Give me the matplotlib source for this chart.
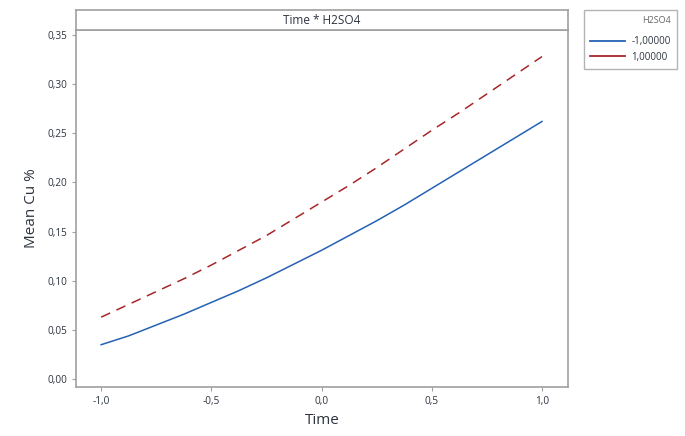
import numpy as np
import matplotlib.pyplot as plt
from matplotlib.lines import Line2D

# ── data ─────────────────────────────────────────────────────────────────────
time_x  = [-1.0, -0.875, -0.75, -0.625, -0.5, -0.375, -0.25, -0.125, 0.0,
           0.125, 0.25, 0.375, 0.5, 0.625, 0.75, 0.875, 1.0]
cu_low  = [0.035, 0.044, 0.055, 0.066, 0.078, 0.090, 0.103, 0.117, 0.131,
           0.146, 0.161, 0.177, 0.194, 0.211, 0.228, 0.245, 0.262]
cu_high = [0.063, 0.076, 0.089, 0.102, 0.116, 0.131, 0.146, 0.163, 0.180,
           0.197, 0.215, 0.234, 0.253, 0.271, 0.290, 0.309, 0.328]
x_ticks  = [-1.0, -0.5, 0.0, 0.5, 1.0]
x_labels = ["-1,0", "-0,5", "0,0", "0,5", "1,0"]
y_ticks  = [0.00, 0.05, 0.10, 0.15, 0.20, 0.25, 0.30, 0.35]
y_labels = ["0,00", "0,05", "0,10", "0,15", "0,20", "0,25", "0,30", "0,35"]
series_labels = ["-1,00000", "1,00000"]

BLUE  = "#2462b4"
RED   = "#a8262a"
FRAME = "#a0a0a0"
TXT   = "#2e3440"

plt.rcParams["font.family"] = ["Open Sans", "DejaVu Sans"]

fig = plt.figure(figsize=(6.85, 4.36), dpi=100)
ax    = fig.add_axes([76/685, 49/436, 492/685, 357/436])
strip = fig.add_axes([76/685, 406/436, 492/685, 20/436])

ax.plot(time_x, cu_low, color=BLUE, lw=1.1)
ax.plot(time_x, cu_high, color=RED, lw=1.1, dashes=(6.5, 4.5))

ax.set_xlim(-1.114, 1.118)
ax.set_ylim(-0.008, 0.355)
ax.set_xticks(x_ticks, x_labels)
ax.set_yticks(y_ticks, y_labels)
ax.tick_params(labelsize=7.2, colors=FRAME, labelcolor=TXT, length=3, width=0.8)
for sp in ax.spines.values():
    sp.set_color(FRAME)
    sp.set_linewidth(1.2)
ax.set_xlabel("Time", fontsize=11, color=TXT, labelpad=4)
ax.set_ylabel("Mean Cu %", fontsize=11, color=TXT, labelpad=6)

strip.set_xticks([])
strip.set_yticks([])
for sp in strip.spines.values():
    sp.set_color(FRAME)
    sp.set_linewidth(1.2)
strip.text(0.5, 0.45, "Time * H2SO4", ha="center", va="center",
           fontsize=8.5, color=TXT, transform=strip.transAxes)

handles = [Line2D([], [], color=BLUE, lw=1.3), Line2D([], [], color=RED, lw=1.3)]
leg = fig.legend(handles, series_labels, title="H2SO4",
                 loc="upper left", bbox_to_anchor=(584/685, 1 - 10/436),
                 borderaxespad=0,
                 fontsize=7, title_fontsize=6.5, frameon=True,
                 fancybox=False, edgecolor=FRAME, handlelength=3.6,
                 borderpad=0.65, labelspacing=0.45, handletextpad=0.6)
leg._legend_box.align = "right"
leg._legend_box.sep = 8
leg.get_frame().set_linewidth(1.0)
for t in leg.get_texts():
    t.set_color(TXT)
leg.get_title().set_color("#666666")

fig.savefig("out.png", dpi=100)
